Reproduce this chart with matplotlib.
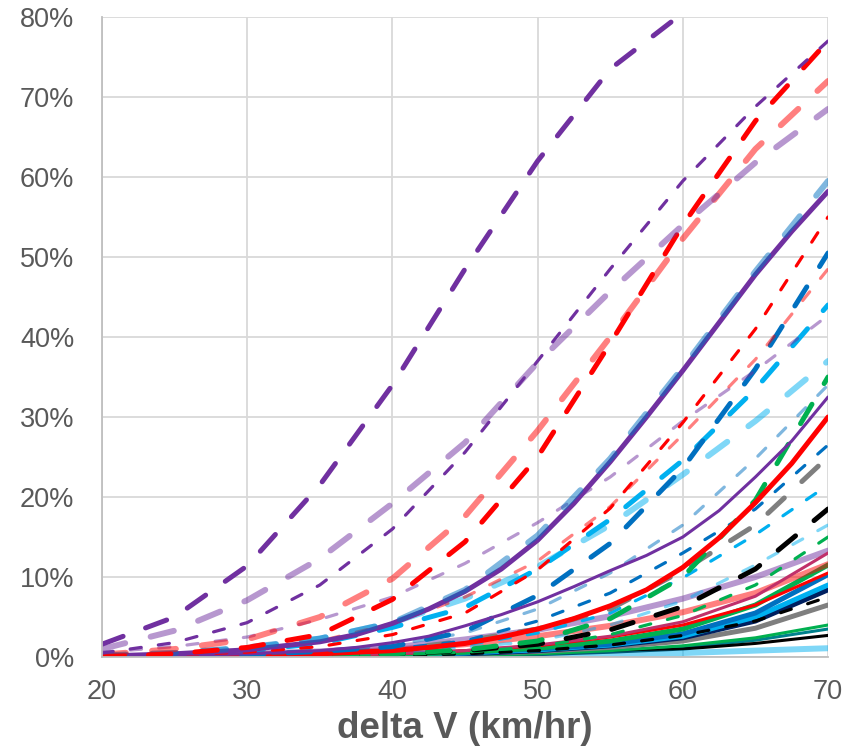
import matplotlib
matplotlib.use("Agg")
import matplotlib.pyplot as plt
from matplotlib.ticker import MultipleLocator, PercentFormatter

# delta V (km/hr) at which the curves were read
dv = [20, 25, 30, 35, 40, 45, 50, 55, 60, 65, 70]
# denser reading for the solid curves where kinks would show
dv_fine = [20, 25, 30, 35, 37.5, 40, 42.5, 45, 47.5, 50, 52.5, 55,
           57.5, 60, 62.5, 65, 67.5, 70]

# risk in %
purple_ld = [1.6, 5, 11.4, 21.5, 34, 48.5, 62, 73.5, 80.5, 86, 90]
purple_ld_a = [1, 3.3, 7.1, 12.3, 19.2, 26.8, 36.8, 45.7, 54, 61.8, 68.5]
purple_sd = [0.5, 1.8, 4.3, 9, 16, 25.6, 37, 48.5, 59.5, 68.8, 77]
purple_sd_a = [0.6, 1.3, 2.5, 4.7, 7.5, 11.7, 16.8, 22.5, 29.5, 35.8, 42.7]
purple_s = [0.1, 0.4, 0.9, 1.9, 2.8, 4.2, 6, 8.2, 11, 14.6, 19.2, 24.4,
            30, 35.8, 41.8, 47.8, 53.2, 58.2]
purple_t = [0, 0.2, 0.4, 0.8, 1.2, 1.8, 2.6, 3.9, 5.3, 6.9, 8.8, 10.8,
            12.7, 15, 18.3, 22.5, 27, 32.5]
purple_s_a = [0.1, 0.2, 0.4, 0.7, 1.2, 2.2, 3.4, 5.1, 7.3, 10, 13.3]

red_ld = [0, 0.4, 1.2, 2.8, 7.2, 14.4, 25, 39.2, 54, 67, 77]
red_ld_a = [0.3, 1, 2.2, 5, 9.8, 17.6, 28.3, 40, 52.3, 63.5, 72]
red_sd = [0, 0.3, 0.6, 1.3, 2.8, 5.5, 10.9, 18.6, 29.3, 41, 55]
red_sd_a = [0, 0.4, 0.9, 2, 4.2, 7.5, 12, 18.8, 27.8, 37.2, 48.5]
red_s = [0, 0.1, 0.2, 0.4, 0.6, 0.8, 1.2, 1.7, 2.5, 3.5, 4.8, 6.4,
         8.4, 11.2, 14.9, 19.3, 24.2, 30]
red_s_a = [0, 0.1, 0.3, 0.5, 0.9, 1.6, 2.6, 3.9, 5.6, 8, 11.6]
red_t = [0, 0, 0.1, 0.2, 0.4, 0.8, 1.4, 2.5, 4, 6.5, 10.5]

blue_ld = [0, 0.1, 0.3, 0.7, 1.3, 3.2, 7.7, 14.2, 23.6, 36, 50.5]
blue_ld_a = [0.2, 0.5, 1.2, 2.3, 4.3, 8.4, 15.2, 24.8, 36.2, 48.2, 59.5]
blue_sd = [0, 0.1, 0.2, 0.5, 1, 2, 4.5, 8, 13, 18.5, 26.5]
blue_sd_a = [0, 0.1, 0.3, 0.7, 1.5, 3, 6, 10.5, 16.5, 24.8, 34]
blue_s = [0, 0, 0.1, 0.2, 0.3, 0.6, 1, 1.6, 2.9, 5.5, 10.3]

cyan_ld = [0.1, 0.3, 0.8, 1.7, 3.7, 6.2, 11, 17.2, 24.6, 33.5, 44]
cyan_ld_a = [0.2, 0.5, 1.1, 2.3, 4.3, 7.3, 11.3, 16.5, 22.8, 29.5, 37]
cyan_sd = [0, 0.1, 0.2, 0.4, 0.7, 1.5, 3, 5.5, 9.9, 15.3, 21.5]
cyan_sd_a = [0, 0, 0.1, 0.3, 0.6, 1.2, 2, 4, 7, 11.5, 16.5]
cyan_s = [0, 0, 0.1, 0.1, 0.3, 0.5, 0.9, 1.5, 2.6, 5, 9]
cyan_s_a = [0, 0, 0, 0, 0.1, 0.1, 0.2, 0.3, 0.5, 0.8, 1.1]

green_ld = [0, 0, 0.1, 0.2, 0.4, 0.9, 2, 4.8, 10, 19.6, 35]
green_sd = [0, 0, 0, 0.1, 0.3, 0.6, 1.3, 2.8, 5.2, 9, 15]
green_s = [0, 0, 0.1, 0.2, 0.3, 0.6, 1.1, 2, 3.5, 6.5, 11.5]
green_t = [0, 0, 0, 0.1, 0.1, 0.2, 0.4, 0.8, 1.4, 2.4, 4]

gray_ld = [0, 0.1, 0.2, 0.4, 0.9, 2, 3.5, 6, 10.8, 16.5, 25]
gray_s = [0, 0, 0, 0.1, 0.2, 0.4, 0.7, 1.2, 2, 3.6, 6.5]

black_ld = [0, 0, 0.1, 0.2, 0.4, 0.8, 1.6, 3.4, 6.3, 11, 18.5]
black_sd = [0, 0, 0.1, 0.1, 0.2, 0.4, 0.8, 1.5, 2.7, 4.5, 7.5]
black_t = [0, 0, 0, 0, 0.1, 0.2, 0.3, 0.6, 1, 1.7, 2.7]

navy_s = [0, 0, 0, 0.1, 0.2, 0.4, 0.8, 1.4, 2.4, 4.5, 8.4]
crimson_t = [0, 0, 0.1, 0.2, 0.4, 0.8, 1.5, 2.6, 4.4, 7.6, 13]
teal_t = [0, 0, 0, 0.1, 0.1, 0.2, 0.4, 0.7, 1.2, 2.1, 3.5]

PURPLE, RED, BLUE, CYAN = "#7030A0", "#FF0000", "#0070C0", "#00B0F0"
GREEN, GRAY, BLACK = "#00B050", "#7F7F7F", "#000000"

# line kinds: (linewidth pt, dash pattern in lw units or None, alpha)
KINDS = {
    "LD": (3.6, (4.5, 4.8), 1.0),
    "LDa": (4.3, (4.0, 4.4), 0.5),
    "SD": (2.3, (3.5, 5.4), 1.0),
    "SDa": (2.3, (3.5, 5.4), 0.5),
    "S": (3.6, None, 1.0),
    "Sa": (4.3, None, 0.5),
    "T": (2.2, None, 1.0),
}

series = [
    (dv, teal_t, "#00808C", "T"),
    (dv, black_t, BLACK, "T"),
    (dv, cyan_s_a, CYAN, "Sa"),
    (dv, green_t, GREEN, "T"),
    (dv, gray_s, GRAY, "S"),
    (dv, navy_s, "#002060", "S"),
    (dv, cyan_s, CYAN, "S"),
    (dv, blue_s, BLUE, "S"),
    (dv, green_s, GREEN, "S"),
    (dv, black_sd, BLACK, "SD"),
    (dv, red_t, RED, "T"),
    (dv, red_s_a, RED, "Sa"),
    (dv, purple_s_a, PURPLE, "Sa"),
    (dv, crimson_t, "#C0306A", "T"),
    (dv, green_sd, GREEN, "SD"),
    (dv, cyan_sd_a, CYAN, "SDa"),
    (dv, black_ld, BLACK, "LD"),
    (dv, cyan_sd, CYAN, "SD"),
    (dv, gray_ld, GRAY, "LD"),
    (dv, blue_sd, BLUE, "SD"),
    (dv, green_ld, GREEN, "LD"),
    (dv_fine, red_s, RED, "S"),
    (dv, blue_sd_a, BLUE, "SDa"),
    (dv, cyan_ld_a, CYAN, "LDa"),
    (dv, cyan_ld, CYAN, "LD"),
    (dv, blue_ld, BLUE, "LD"),
    (dv_fine, purple_t, PURPLE, "T"),
    (dv, purple_sd_a, PURPLE, "SDa"),
    (dv, red_sd_a, RED, "SDa"),
    (dv, red_sd, RED, "SD"),
    (dv_fine, purple_s, PURPLE, "S"),
    (dv, blue_ld_a, BLUE, "LDa"),
    (dv, red_ld_a, RED, "LDa"),
    (dv, red_ld, RED, "LD"),
    (dv, purple_sd, PURPLE, "SD"),
    (dv, purple_ld_a, PURPLE, "LDa"),
    (dv, purple_ld, PURPLE, "LD"),
]

plt.rcParams["font.family"] = ["Liberation Sans", "DejaVu Sans"]
TXT = "#595959"

fig = plt.figure(figsize=(8.53, 7.49), dpi=100)
ax = fig.add_axes([0.1196, 0.1228, 0.8511, 0.8545])

for x, y, color, kind in series:
    lw, dash, alpha = KINDS[kind]
    if dash is None:
        ax.plot(x, y, color=color, lw=lw, alpha=alpha,
                solid_capstyle="round", solid_joinstyle="round")
    else:
        ax.plot(x, y, color=color, lw=lw, alpha=alpha,
                linestyle=(0, dash), dash_capstyle="round",
                dash_joinstyle="round")

ax.set_xlim(20, 70)
ax.set_ylim(0, 80)
ax.xaxis.set_major_locator(MultipleLocator(10))
ax.yaxis.set_major_locator(MultipleLocator(10))
ax.yaxis.set_major_formatter(PercentFormatter(100, decimals=0))
ax.grid(True, color="#D9D9D9", lw=1.3, zorder=0)
ax.set_axisbelow(True)

for side in ("top", "right"):
    ax.spines[side].set_visible(False)
for side in ("left", "bottom"):
    ax.spines[side].set_color("#BFBFBF")
    ax.spines[side].set_linewidth(1.3)

ax.tick_params(length=0, labelsize=19.5, labelcolor=TXT)
ax.tick_params(axis="x", pad=16)
ax.tick_params(axis="y", pad=20)
ax.set_xlabel("delta V (km/hr)", fontsize=26.5, fontweight="bold",
              color=TXT, labelpad=4)

fig.savefig("out.png", dpi=100)
